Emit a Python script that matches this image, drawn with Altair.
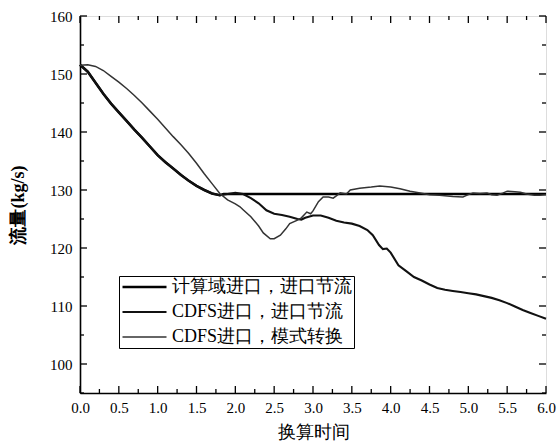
import altair as alt
import pandas as pd

series_names = ["计算域进口，进口节流", "CDFS进口，进口节流", "CDFS进口，模式转换"]

a_t = [0.0, 0.1, 0.2, 0.3, 0.4, 0.5, 0.6, 0.7, 0.8, 0.9, 1.0, 1.1, 1.2, 1.3, 1.4,
       1.5, 1.6, 1.7, 1.8, 1.85, 2.0, 6.0]
a_v = [151.6, 150.4, 148.5, 146.6, 144.9, 143.4, 141.9, 140.4, 139.0, 137.5, 136.0,
       134.8, 133.7, 132.6, 131.6, 130.7, 130.0, 129.4, 129.1, 129.3, 129.3, 129.3]

b_t = [0.0, 0.1, 0.2, 0.3, 0.4, 0.5, 0.6, 0.7, 0.8, 0.9, 1.0, 1.1, 1.2, 1.3, 1.4,
       1.5, 1.6, 1.7, 1.8, 1.9, 2.0, 2.1, 2.2, 2.3, 2.4, 2.5, 2.6, 2.7, 2.8, 2.85,
       2.9, 3.0, 3.1, 3.2, 3.3, 3.4, 3.5, 3.6, 3.7, 3.77, 3.85, 3.9, 3.95, 4.0, 4.1,
       4.2, 4.3, 4.4, 4.5, 4.6, 4.7, 4.8, 4.9, 5.0, 5.1, 5.2, 5.3, 5.4, 5.5, 5.6,
       5.7, 5.8, 5.9, 6.0]
b_v = [151.6, 150.4, 148.5, 146.6, 144.9, 143.4, 141.9, 140.4, 139.0, 137.5, 136.0,
       134.8, 133.7, 132.6, 131.6, 130.7, 130.0, 129.4, 129.1, 129.3, 129.5, 129.3,
       128.6, 127.7, 126.5, 125.9, 125.7, 125.4, 125.0, 124.9, 125.2, 125.6, 125.6,
       125.2, 124.7, 124.4, 124.2, 123.8, 123.1, 122.2, 120.5, 119.8, 119.9, 119.2,
       117.0, 116.0, 115.0, 114.4, 113.7, 113.1, 112.8, 112.6, 112.4, 112.2, 112.0,
       111.7, 111.4, 111.0, 110.5, 109.9, 109.3, 108.8, 108.3, 107.8]

c_t = [0.0, 0.1, 0.2, 0.3, 0.4, 0.5, 0.6, 0.7, 0.8, 0.9, 1.0, 1.1, 1.2, 1.3, 1.4,
       1.5, 1.6, 1.7, 1.8, 1.9, 2.0, 2.06, 2.1, 2.2, 2.3, 2.36, 2.45, 2.5, 2.58,
       2.65, 2.7, 2.8, 2.85, 2.92, 2.97, 3.0, 3.07, 3.13, 3.2, 3.26, 3.3, 3.35,
       3.43, 3.48, 3.6, 3.75, 3.86, 4.0, 4.12, 4.25, 4.38, 4.5, 4.63, 4.8, 4.93,
       5.0, 5.06, 5.15, 5.24, 5.3, 5.37, 5.45, 5.5, 5.6, 5.67, 5.75, 5.85, 5.92, 6.0]
c_v = [151.5, 151.6, 151.3, 150.6, 149.6, 148.6, 147.5, 146.3, 145.0, 143.6, 142.2,
       140.7, 139.2, 137.8, 136.3, 134.6, 132.8, 131.1, 129.4, 128.3, 127.6, 127.1,
       126.6, 125.4, 123.8, 122.6, 121.6, 121.6, 122.2, 123.3, 124.2, 124.8, 125.2,
       126.2, 125.9, 126.4, 128.0, 128.8, 128.8, 128.6, 129.0, 129.5, 129.3, 130.0,
       130.3, 130.5, 130.7, 130.5, 130.2, 129.8, 129.5, 129.2, 129.1, 128.9, 128.8,
       129.2, 129.5, 129.4, 129.5, 129.2, 129.1, 129.5, 129.8, 129.7, 129.6, 129.3,
       129.1, 129.1, 129.2]

x_major = [0.0, 0.5, 1.0, 1.5, 2.0, 2.5, 3.0, 3.5, 4.0, 4.5, 5.0, 5.5, 6.0]
x_minor = [0.25, 0.75, 1.25, 1.75, 2.25, 2.75, 3.25, 3.75, 4.25, 4.75, 5.25, 5.75]
y_major = [100, 110, 120, 130, 140, 150, 160]
y_minor = [95, 105, 115, 125, 135, 145, 155]

rows = []
for name, ts, vs in zip(series_names, [a_t, b_t, c_t], [a_v, b_v, c_v]):
    for t, v in zip(ts, vs):
        rows.append({"t": t, "v": v, "s": name})
df = pd.DataFrame(rows)

W, H = 466, 377
SERIF = "Liberation Serif"

xs = alt.Scale(domain=[0, 6], nice=False, zero=False)
ys = alt.Scale(domain=[95, 160], nice=False, zero=False)

x_axis = alt.Axis(
    values=x_major, format=".1f", title="换算时间", ticks=False, domain=True,
    domainColor="black", domainWidth=1.6,
    grid=False, labelFontSize=15, labelColor="black",
    labelPadding=7, labelFlush=False, titleFontSize=18,
    titleFontWeight="normal", titleColor="black", titlePadding=8)
y_axis = alt.Axis(
    values=y_major, format="d", title="流量(kg/s)", ticks=False, domain=True,
    domainColor="black", domainWidth=1.6,
    grid=False, labelFontSize=15, labelColor="black",
    labelPadding=8, labelFlush=False, titleFontSize=18,
    titleFontWeight="bold", titleColor="black", titlePadding=22)

leg = alt.Legend(
    orient="none", legendX=39, legendY=260, title=None,
    strokeColor="black", fillColor="white", padding=2,
    symbolType="stroke", symbolSize=1936, clipHeight=18,
    labelFontSize=18,
    labelColor="black", labelOffset=4, rowPadding=7, labelLimit=400,
)

lines = alt.Chart(df).mark_line().encode(
    x=alt.X("t:Q", scale=xs, axis=x_axis),
    y=alt.Y("v:Q", scale=ys, axis=y_axis),
    color=alt.Color("s:N", scale=alt.Scale(domain=series_names,
                                           range=["#000000", "#111111", "#333333"]),
                    legend=leg),
    strokeWidth=alt.StrokeWidth("s:N", scale=alt.Scale(type="ordinal", domain=series_names,
                                                       range=[2.6, 2.1, 1.5]),
                                legend=leg),
)

tx_major = pd.DataFrame({"t": x_major})
tx_minor = pd.DataFrame({"t": x_minor})
ty_major = pd.DataFrame({"v": y_major})
ty_minor = pd.DataFrame({"v": y_minor})

def xticks(d, L):
    base = alt.Chart(d).mark_rule(color="black", strokeWidth=1.3)
    bot = base.encode(x=alt.X("t:Q", scale=xs, axis=x_axis), y=alt.value(H), y2=alt.value(H - L))
    top = base.encode(x=alt.X("t:Q", scale=xs, axis=x_axis), y=alt.value(0), y2=alt.value(L))
    return [bot, top]

def yticks(d, L):
    base = alt.Chart(d).mark_rule(color="black", strokeWidth=1.3)
    left = base.encode(y=alt.Y("v:Q", scale=ys, axis=y_axis), x=alt.value(0), x2=alt.value(L))
    right = base.encode(y=alt.Y("v:Q", scale=ys, axis=y_axis), x=alt.value(W), x2=alt.value(W - L))
    return [left, right]

layers = [lines] + xticks(tx_major, 7) + xticks(tx_minor, 4) + yticks(ty_major, 7) + yticks(ty_minor, 4)

chart = alt.layer(*layers).properties(
    width=W, height=H,
    autosize=alt.AutoSizeParams(type="none"),
    padding={"left": 80, "top": 16, "right": 12, "bottom": 53},
    background="white",
).configure_view(
    stroke="black", strokeWidth=1.6
).configure(font=SERIF).configure_axis(
    labelFont=SERIF, titleFont=SERIF
).configure_legend(labelFont=SERIF)

chart.save("out.html", embed_options={"renderer": "svg", "actions": False})
